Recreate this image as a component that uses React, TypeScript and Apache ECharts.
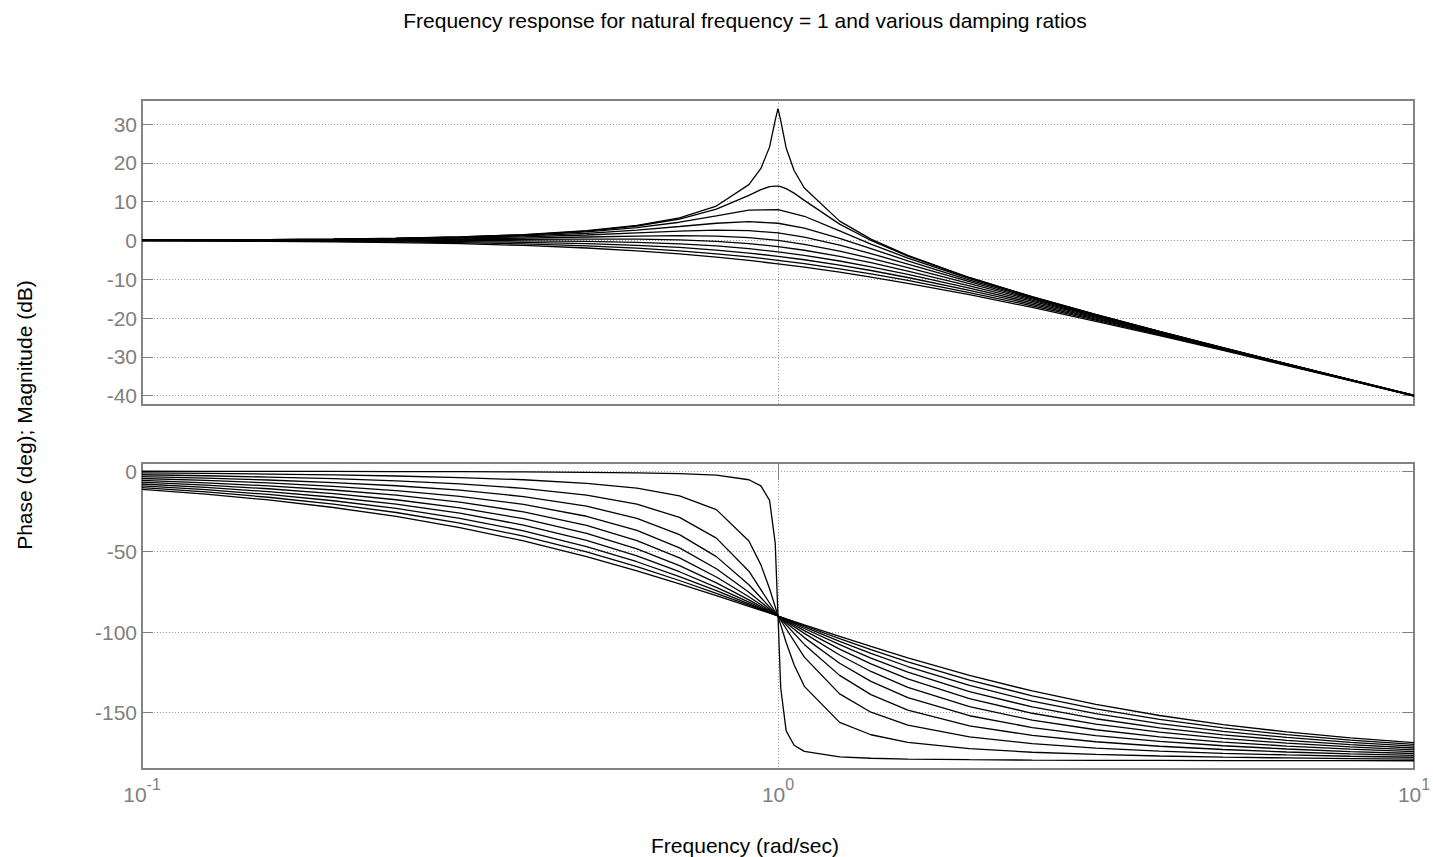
import React, { useEffect, useRef } from "react";
import * as echarts from "echarts";

// Frequencies (rad/sec) for the lightly damped curves and for the others
const FREQ_FINE = [0.1, 0.126, 0.158, 0.2, 0.251, 0.316, 0.398, 0.5, 0.6, 0.7, 0.8, 0.9, 0.94, 0.97, 0.99, 1.0, 1.01, 1.03, 1.06, 1.1, 1.25, 1.4, 1.6, 2.0, 2.51, 3.16, 3.98, 5.01, 6.31, 7.94, 10];
const FREQ = [0.1, 0.126, 0.158, 0.2, 0.251, 0.316, 0.398, 0.5, 0.6, 0.7, 0.8, 0.9, 1.0, 1.1, 1.25, 1.4, 1.6, 2.0, 2.51, 3.16, 3.98, 5.01, 6.31, 7.94, 10];

// Magnitude (dB)
const MAG_Z001 = [0.09, 0.14, 0.22, 0.35, 0.57, 0.91, 1.5, 2.5, 3.88, 5.85, 8.87, 14.39, 18.57, 24.12, 31.03, 33.98, 30.9, 23.84, 18.03, 13.51, 4.99, 0.35, -3.86, -9.54, -14.49, -19.07, -23.43, -27.64, -31.78, -35.85, -39.91];
const MAG_Z01 = [0.09, 0.14, 0.22, 0.35, 0.55, 0.89, 1.46, 2.42, 3.73, 5.53, 8.09, 11.64, 13.11, 13.86, 14.02, 13.98, 13.85, 13.36, 12.2, 10.34, 4.22, 0.0, -4.04, -9.62, -14.53, -19.09, -23.44, -27.65, -31.79, -35.86, -39.92];
const MAG_Z02 = [0.08, 0.13, 0.2, 0.33, 0.52, 0.83, 1.35, 2.2, 3.31, 4.7, 6.35, 7.81, 7.96, 6.24, 2.47, -0.92, -4.54, -9.84, -14.64, -19.16, -23.48, -27.67, -31.8, -35.87, -39.92];
const MAG_Z03 = [0.07, 0.11, 0.18, 0.29, 0.45, 0.73, 1.16, 1.85, 2.68, 3.6, 4.44, 4.85, 4.44, 3.19, 0.56, -2.11, -5.26, -10.19, -14.82, -19.26, -23.54, -27.71, -31.82, -35.88, -39.93];
const MAG_Z04 = [0.06, 0.09, 0.15, 0.24, 0.37, 0.58, 0.92, 1.41, 1.94, 2.41, 2.68, 2.56, 1.94, 0.87, -1.19, -3.38, -6.1, -10.63, -15.07, -19.4, -23.63, -27.76, -31.85, -35.9, -39.94];
const MAG_Z05 = [0.04, 0.07, 0.11, 0.17, 0.26, 0.41, 0.62, 0.9, 1.14, 1.25, 1.14, 0.73, 0.0, -0.98, -2.74, -4.6, -6.98, -11.14, -15.36, -19.58, -23.73, -27.82, -31.89, -35.92, -39.96];
const MAG_Z06 = [0.02, 0.04, 0.06, 0.09, 0.14, 0.2, 0.29, 0.35, 0.33, 0.15, -0.22, -0.8, -1.58, -2.52, -4.09, -5.73, -7.87, -11.69, -15.7, -19.78, -23.86, -27.9, -31.94, -35.96, -39.98];
const MAG_Z07 = [0.0, 0.0, 0.0, 0.0, -0.01, -0.03, -0.08, -0.22, -0.47, -0.87, -1.41, -2.11, -2.92, -3.83, -5.29, -6.78, -8.72, -12.26, -16.07, -20.01, -24.0, -27.99, -32.0, -35.99, -40.0];
const MAG_Z08 = [-0.03, -0.04, -0.06, -0.1, -0.17, -0.28, -0.47, -0.8, -1.24, -1.8, -2.48, -3.24, -4.08, -4.97, -6.35, -7.74, -9.54, -12.84, -16.46, -20.27, -24.16, -28.1, -32.07, -36.03, -40.03];
const MAG_Z09 = [-0.05, -0.09, -0.14, -0.22, -0.34, -0.55, -0.87, -1.38, -1.98, -2.67, -3.43, -4.25, -5.11, -5.98, -7.31, -8.62, -10.31, -13.42, -16.86, -20.53, -24.34, -28.21, -32.14, -36.08, -40.05];
const MAG_Z10 = [-0.09, -0.14, -0.21, -0.34, -0.53, -0.83, -1.28, -1.94, -2.67, -3.46, -4.3, -5.15, -6.02, -6.89, -8.17, -9.43, -11.03, -13.98, -17.27, -20.82, -24.53, -28.33, -32.22, -36.13, -40.09];

// Phase (deg)
const PH_Z001 = [-0.12, -0.15, -0.19, -0.24, -0.31, -0.4, -0.54, -0.76, -1.07, -1.57, -2.54, -5.41, -9.17, -18.17, -44.86, -90, -134.86, -161.31, -170.27, -174.02, -177.46, -178.33, -178.82, -179.24, -179.46, -179.6, -179.69, -179.76, -179.81, -179.85, -179.88];
const PH_Z01 = [-1.16, -1.47, -1.86, -2.39, -3.07, -4.02, -5.4, -7.59, -10.62, -15.35, -23.96, -43.45, -58.24, -73.06, -84.26, -90, -95.68, -106.47, -120.24, -133.67, -156.04, -163.74, -168.41, -172.41, -174.59, -175.98, -176.93, -177.62, -178.14, -178.53, -178.84];
const PH_Z02 = [-2.31, -2.93, -3.71, -4.76, -6.12, -7.99, -10.71, -14.93, -20.56, -28.77, -41.63, -62.18, -90, -115.51, -138.37, -149.74, -157.7, -165.07, -169.27, -171.99, -173.88, -175.25, -176.28, -177.07, -177.69];
const PH_Z03 = [-3.47, -4.39, -5.55, -7.13, -9.13, -11.89, -15.84, -21.8, -29.36, -39.47, -53.13, -70.62, -90, -107.65, -126.87, -138.82, -148.4, -158.2, -164.14, -168.09, -170.86, -172.89, -174.43, -175.61, -176.53];
const PH_Z04 = [-4.62, -5.85, -7.39, -9.46, -12.09, -15.69, -20.72, -28.07, -36.87, -47.68, -60.64, -75.22, -90, -103.42, -119.36, -130.6, -140.63, -151.93, -159.25, -164.29, -167.89, -170.56, -172.59, -174.15, -175.38];
const PH_Z05 = [-5.77, -7.3, -9.21, -11.77, -15.0, -19.34, -25.31, -33.69, -43.15, -53.92, -65.77, -78.08, -90, -100.81, -114.23, -124.44, -134.28, -146.31, -154.66, -160.63, -164.99, -168.26, -170.77, -172.7, -174.23];
const PH_Z06 = [-6.91, -8.74, -11.0, -14.04, -17.82, -22.84, -29.57, -38.66, -48.37, -58.74, -69.44, -80.02, -90, -99.04, -110.56, -119.75, -129.09, -141.34, -150.39, -157.12, -162.16, -165.99, -168.96, -171.27, -173.09];
const PH_Z07 = [-8.05, -10.16, -12.78, -16.26, -20.56, -26.17, -33.51, -43.03, -52.7, -62.51, -72.18, -81.43, -90, -97.77, -107.82, -116.1, -124.85, -136.98, -146.46, -153.79, -159.42, -163.77, -167.18, -169.84, -171.95];
const PH_Z08 = [-9.18, -11.58, -14.54, -18.44, -23.2, -29.32, -37.11, -46.85, -56.31, -65.52, -74.29, -82.48, -90, -96.8, -105.71, -113.2, -121.36, -133.15, -142.85, -150.64, -156.78, -161.6, -165.42, -168.42, -170.82];
const PH_Z09 = [-10.31, -12.98, -16.26, -20.56, -25.74, -32.29, -40.4, -50.19, -59.35, -67.96, -75.96, -83.31, -90, -96.05, -104.04, -110.85, -118.44, -129.81, -139.56, -147.67, -154.23, -159.48, -163.69, -167.02, -169.7];
const PH_Z10 = [-11.42, -14.36, -17.96, -22.62, -28.18, -35.07, -43.4, -53.13, -61.93, -69.98, -77.32, -83.97, -90, -95.45, -102.68, -108.92, -115.99, -126.87, -136.56, -144.88, -151.79, -157.42, -161.99, -165.64, -168.58];

const MAG_TICKS = [-40, -30, -20, -10, 0, 10, 20, 30];
const PHASE_TICKS = [-150, -100, -50, 0];

const TITLE = "Frequency response for natural frequency = 1 and various damping ratios";
const X_LABEL = "Frequency (rad/sec)";
const Y_LABEL = "Phase (deg); Magnitude (dB)";

const CURVES = [
  { name: "0.01", freq: FREQ_FINE, mag: MAG_Z001, phase: PH_Z001 },
  { name: "0.1", freq: FREQ_FINE, mag: MAG_Z01, phase: PH_Z01 },
  { name: "0.2", freq: FREQ, mag: MAG_Z02, phase: PH_Z02 },
  { name: "0.3", freq: FREQ, mag: MAG_Z03, phase: PH_Z03 },
  { name: "0.4", freq: FREQ, mag: MAG_Z04, phase: PH_Z04 },
  { name: "0.5", freq: FREQ, mag: MAG_Z05, phase: PH_Z05 },
  { name: "0.6", freq: FREQ, mag: MAG_Z06, phase: PH_Z06 },
  { name: "0.7", freq: FREQ, mag: MAG_Z07, phase: PH_Z07 },
  { name: "0.8", freq: FREQ, mag: MAG_Z08, phase: PH_Z08 },
  { name: "0.9", freq: FREQ, mag: MAG_Z09, phase: PH_Z09 },
  { name: "1.0", freq: FREQ, mag: MAG_Z10, phase: PH_Z10 },
];

const FONT = "'Liberation Sans', Arial, Helvetica, sans-serif";
const GRAY = "#808080";
const GRID_COLOR = "#999999";

export default function App() {
  const ref = useRef<HTMLDivElement>(null);

  useEffect(() => {
    document.body.style.margin = "0";
    const chart = echarts.init(ref.current!, null, { renderer: "svg" });

    const tickStyle = { lineStyle: { color: GRAY, width: 1 } };
    const splitDotted = { show: true, lineStyle: { color: GRID_COLOR, width: 1, type: [1, 2] as any } };

    const xBase = (gridIndex: number, position: "top" | "bottom", labels: boolean, split: boolean) => ({
      type: "log",
      logBase: 10,
      min: 0.1,
      max: 10,
      gridIndex,
      position,
      axisLine: { show: false },
      axisTick: { show: true, inside: true, length: 9, ...tickStyle },
      splitLine: split ? splitDotted : { show: false },
      axisLabel: labels
        ? {
            show: true,
            margin: 7,
            formatter: (v: number) => `{b|10}{e|${Math.round(Math.log10(v))}}`,
            rich: {
              b: { fontSize: 21, fontFamily: FONT, color: GRAY },
              e: { fontSize: 16, fontFamily: FONT, color: GRAY, verticalAlign: "bottom", padding: [0, 0, 20, 0] },
            },
          }
        : { show: false },
    });

    const yBase = (gridIndex: number, position: "left" | "right", min: number, max: number, ticks: number[], labels: boolean) => ({
      type: "value",
      gridIndex,
      position,
      min,
      max,
      axisLine: { show: false },
      axisTick: { show: true, inside: true, length: 11, customValues: ticks, ...tickStyle },
      splitLine: labels ? splitDotted : { show: false },
      axisLabel: labels
        ? { show: true, customValues: ticks, margin: 5, fontSize: 21, fontFamily: FONT, color: GRAY }
        : { show: false },
    });

    const series: any[] = [];
    CURVES.forEach((c) => {
      series.push({
        name: "mag " + c.name,
        type: "line",
        xAxisIndex: 0,
        yAxisIndex: 0,
        showSymbol: false,
        symbol: "none",
        lineStyle: { color: "#000", width: 1.3 },
        data: c.freq.map((f, i) => [f, c.mag[i]]),
      });
      series.push({
        name: "phase " + c.name,
        type: "line",
        xAxisIndex: 2,
        yAxisIndex: 2,
        showSymbol: false,
        symbol: "none",
        lineStyle: { color: "#000", width: 1.3 },
        data: c.freq.map((f, i) => [f, c.phase[i]]),
      });
    });

    const gridCommon = {
      left: 142,
      width: 1272,
      show: true,
      borderColor: GRAY,
      borderWidth: 2,
      backgroundColor: "transparent",
      containLabel: false,
      outerBoundsMode: "none",
    };

    chart.setOption({
      animation: false,
      backgroundColor: "#fff",
      grid: [
        { ...gridCommon, top: 100, height: 305 },
        { ...gridCommon, top: 463, height: 306 },
      ],
      xAxis: [
        xBase(0, "bottom", false, true),
        xBase(0, "top", false, false),
        xBase(1, "bottom", true, true),
        xBase(1, "top", false, false),
      ],
      yAxis: [
        yBase(0, "left", -42.4, 36.2, MAG_TICKS, true),
        yBase(0, "right", -42.4, 36.2, MAG_TICKS, false),
        yBase(1, "left", -185, 5, PHASE_TICKS, true),
        yBase(1, "right", -185, 5, PHASE_TICKS, false),
      ],
      graphic: [
        {
          type: "text",
          x: 745,
          y: 20,
          style: { text: TITLE, font: `21px ${FONT}`, fill: "#000", textAlign: "center", textVerticalAlign: "middle" },
        },
        {
          type: "text",
          x: 745,
          y: 845,
          style: { text: X_LABEL, font: `21px ${FONT}`, fill: "#000", textAlign: "center", textVerticalAlign: "middle" },
        },
        {
          type: "text",
          x: 24,
          y: 415,
          rotation: Math.PI / 2,
          style: { text: Y_LABEL, font: `21px ${FONT}`, fill: "#000", textAlign: "center", textVerticalAlign: "middle" },
        },
      ],
      series,
    });

    return () => chart.dispose();
  }, []);

  return <div ref={ref} style={{ width: 1433, height: 857 }} />;
}
